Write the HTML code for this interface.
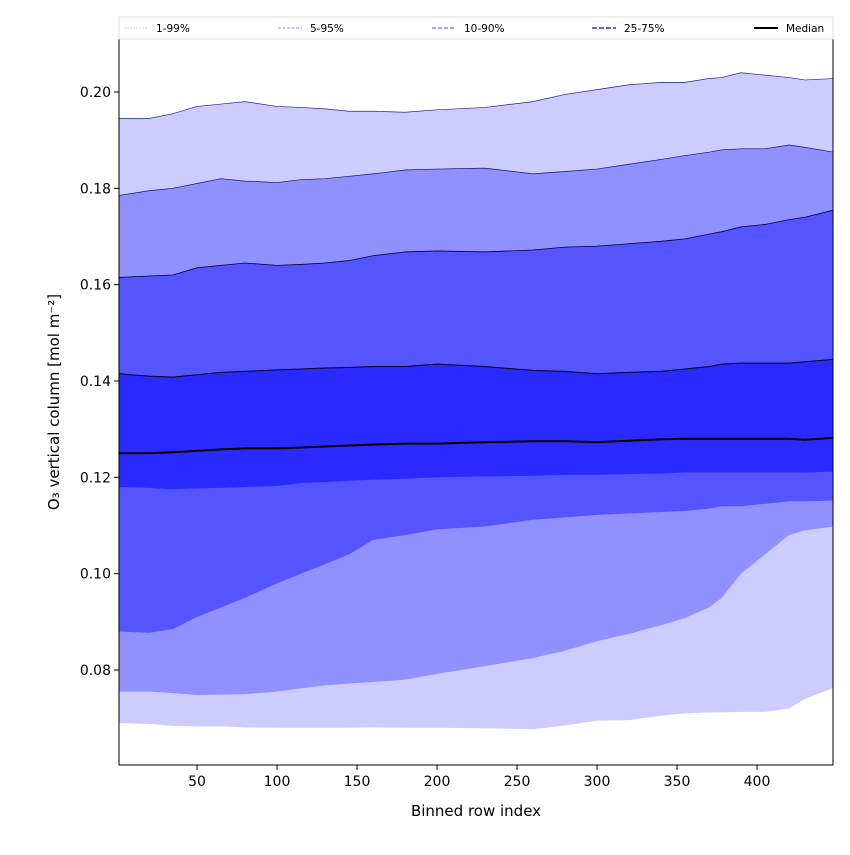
<!DOCTYPE html>
<html><head><meta charset="utf-8"><style>
body{margin:0;background:#fff}
svg{font-family:"DejaVu Sans","Liberation Sans",sans-serif}
</style></head><body>
<svg id="c" width="850" height="850" viewBox="0 0 850 850"></svg>
<script>
const xs=[1,20,35,50,65,80,100,115,130,145,160,180,200,230,260,280,300,320,340,355,370,378,390,405,420,430,448];
const p1=[.069,.0688,.0684,.0683,.0683,.0681,.068,.068,.068,.068,.0681,.068,.068,.0679,.0677,.0685,.0695,.0696,.0705,.071,.0712,.0712,.0713,.0713,.072,.074,.0763];
const p5=[.0755,.0755,.0752,.0748,.0749,.075,.0755,.0762,.0768,.0772,.0775,.078,.0792,.0808,.0825,.084,.086,.0875,.0893,.0908,.093,.095,.1,.104,.108,.109,.1098];
const p10=[.088,.0877,.0885,.091,.093,.095,.098,.1,.102,.104,.107,.108,.1092,.1098,.1112,.1117,.1122,.1125,.1128,.113,.1135,.114,.114,.1145,.115,.115,.1152];
const p25=[.118,.1178,.1175,.1177,.1178,.118,.1182,.1188,.119,.1193,.1195,.1197,.12,.1202,.1203,.1205,.1205,.1207,.1208,.121,.121,.121,.121,.121,.121,.121,.1212];
const med=[.125,.125,.1252,.1255,.1258,.126,.126,.1262,.1264,.1266,.1268,.127,.127,.1273,.1275,.1275,.1273,.1276,.1279,.128,.128,.128,.128,.128,.128,.1278,.1282];
const p75=[.1415,.141,.1408,.1413,.1418,.142,.1423,.1425,.1427,.1428,.143,.143,.1435,.143,.1422,.142,.1415,.1418,.142,.1425,.143,.1435,.1437,.1437,.1437,.144,.1445];
const p90=[.1615,.1618,.162,.1635,.164,.1645,.164,.1642,.1645,.165,.166,.1668,.167,.1668,.1672,.1678,.168,.1685,.169,.1695,.1705,.171,.172,.1725,.1735,.174,.1755];
const p95=[.1785,.1795,.18,.181,.182,.1815,.1812,.1818,.182,.1825,.183,.1838,.184,.1842,.183,.1835,.184,.185,.186,.1868,.1875,.188,.1882,.1882,.189,.1885,.1875];
const p99=[.1945,.1945,.1955,.197,.1975,.198,.197,.1968,.1965,.196,.196,.1958,.1963,.1968,.198,.1995,.2005,.2015,.202,.202,.2028,.203,.204,.2035,.203,.2025,.2028];
const xTicks=[50,100,150,200,250,300,350,400];
const yTicks=[0.08,0.10,0.12,0.14,0.16,0.18,0.20];
const legendLabels=["1-99%","5-95%","10-90%","25-75%","Median"];

const L=119,R=833,T=38,B=765;
const X=v=>117+(v)*1.6;
const Y=v=>92+(0.20-v)*4816.7;
const svg=document.getElementById('c');
const NS='http://www.w3.org/2000/svg';
function mk(t,a,p){const e=document.createElementNS(NS,t);for(const k in a)e.setAttribute(k,a[k]);(p||svg).appendChild(e);return e;}
const clip=mk('clipPath',{id:'cp'});mk('rect',{x:L,y:T,width:R-L,height:B-T},clip);
const g=mk('g',{'clip-path':'url(#cp)'});
function band(lo,hi,col,name){
  let d='M'+xs.map((x,i)=>X(x)+','+Y(hi[i])).join('L');
  for(let i=xs.length-1;i>=0;i--)d+='L'+X(xs[i])+','+Y(lo[i]);
  const p=mk('path',{d:d+'Z',fill:col},g);
  
  
}
function line(arr,col,w,name){
  const p=mk('path',{d:'M'+xs.map((x,i)=>X(x)+','+Y(arr[i])).join('L'),fill:'none',stroke:col,'stroke-width':w},g);
  
  
}
band(p1,p99,'#ccccff','band-1-99');
band(p5,p95,'#9090ff','band-5-95');
band(p10,p90,'#5555ff','band-10-90');
band(p25,p75,'#2a2aff','band-25-75');
line(p99,'#2020a0',0.7,'line-p99');line(p95,'#101070',0.7,'line-p95');
line(p90,'#000040',0.8,'line-p90');line(p75,'#000020',1,'line-p75');
line(med,'#000',2,'median-line');
mk('rect',{x:L,y:T,width:R-L,height:B-T,fill:'none',stroke:'#000','stroke-width':1});
xTicks.forEach(v=>{mk('line',{x1:X(v),x2:X(v),y1:B,y2:B+5,stroke:'#000'});
 const t=mk('text',{x:X(v),y:B+21,'text-anchor':'middle','font-size':14});t.textContent=v;
 });
yTicks.forEach(v=>{mk('line',{x1:L-5,x2:L,y1:Y(v),y2:Y(v),stroke:'#000'});
 const t=mk('text',{x:L-8,y:Y(v)+5,'text-anchor':'end','font-size':14});t.textContent=v.toFixed(2);
 });
const xt=mk('text',{x:476,y:816,'text-anchor':'middle','font-size':15});xt.textContent='Binned row index';

const yt=mk('text',{x:59,y:402,'text-anchor':'middle','font-size':15,transform:'rotate(-90 59 402)'});yt.textContent='O₃ vertical column [mol m⁻²]';

const lg=mk('g',{});
mk('rect',{x:119,y:17,width:714,height:22,fill:'#fff',stroke:'#ddd'},lg);
const lx=[124,278,432,592,754];
const ls=[{c:'#ccccff',w:1,d:'2,1'},{c:'#9090ff',w:1,d:'3,1.5'},{c:'#8080ff',w:1.5,d:'4,2'},{c:'#6060ff',w:2,d:'5,2'},{c:'#000',w:2,d:''}];
legendLabels.forEach((s,i)=>{
 mk('line',{x1:lx[i],x2:lx[i]+24,y1:28,y2:28,stroke:ls[i].c,'stroke-width':ls[i].w,'stroke-dasharray':ls[i].d},lg);
 const t=mk('text',{x:lx[i]+32,y:32,'font-size':10.5},lg);t.textContent=s;
 
});
</script>
</body></html>
